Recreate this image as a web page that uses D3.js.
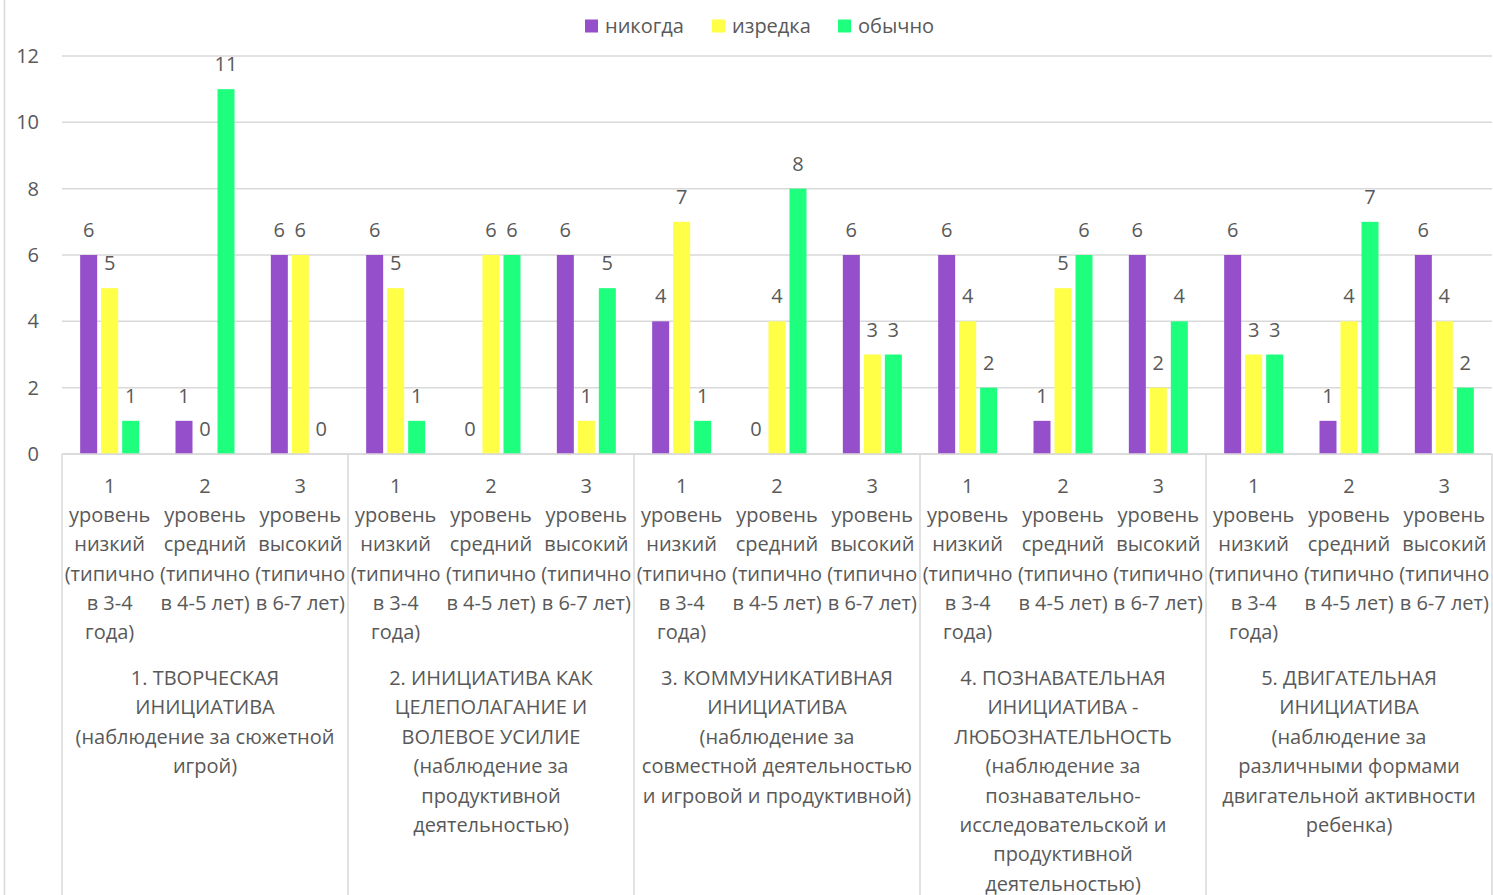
<!DOCTYPE html>
<html><head><meta charset="utf-8">
<script src="https://cdn.jsdelivr.net/npm/d3@7"></script>
<style>
body{margin:0;background:#fff;}
text{font-family:"Open Sans",sans-serif;fill:#595959;}
</style></head>
<body>
<svg id="c" width="1493" height="895"></svg>
<script>
const series = ["никогда","изредка","обычно"];
const colors = ["#954FCA","#FFFF47","#1EFF7E"];
const groups = [
  ["1. ТВОРЧЕСКАЯ","ИНИЦИАТИВА","(наблюдение за сюжетной","игрой)"],
  ["2. ИНИЦИАТИВА КАК","ЦЕЛЕПОЛАГАНИЕ И","ВОЛЕВОЕ УСИЛИЕ","(наблюдение за","продуктивной","деятельностью)"],
  ["3. КОММУНИКАТИВНАЯ","ИНИЦИАТИВА","(наблюдение за","совместной деятельностью","и игровой и продуктивной)"],
  ["4. ПОЗНАВАТЕЛЬНАЯ","ИНИЦИАТИВА -","ЛЮБОЗНАТЕЛЬНОСТЬ","(наблюдение за","познавательно-","исследовательской и","продуктивной","деятельностью)"],
  ["5. ДВИГАТЕЛЬНАЯ","ИНИЦИАТИВА","(наблюдение за","различными формами","двигательной активности","ребенка)"]
];
const levels = [
  ["1","уровень","низкий","(типично","в 3-4","года)"],
  ["2","уровень","средний","(типично","в 4-5 лет)"],
  ["3","уровень","высокий","(типично","в 6-7 лет)"]
];
// values per series, 15 categories (5 groups x 3 levels)
const neverVals  = [6,1,6, 6,0,6, 4,0,6, 6,1,6, 6,1,6];
const rarelyVals = [5,0,6, 5,6,1, 7,4,3, 4,5,2, 3,4,4];
const usualVals  = [1,11,0, 1,6,5, 1,8,3, 2,6,4, 3,7,2];
const yTicks = [0,2,4,6,8,10,12];

const valuesBySeries = [neverVals, rarelyVals, usualVals];
const cats = d3.range(groups.length * levels.length);
const svg = d3.select("#c");
const L = 62, R = 1492, T = 56, B = 454;

const x = d3.scaleBand().domain(cats).range([L, R]).padding(0);
const x1 = d3.scaleBand().domain(d3.range(series.length)).range([0, x.bandwidth()])
  .paddingInner(4/21).paddingOuter(0.865);
const y = d3.scaleLinear().domain([0, 12]).range([B, T]);

// chart border left
svg.append("line").attr("x1",4.5).attr("x2",4.5).attr("y1",0).attr("y2",895)
  .attr("stroke","#d9d9d9").attr("stroke-width",1.5);

// gridlines
svg.append("g").selectAll("line").data(yTicks).join("line")
  .attr("x1",L).attr("x2",R).attr("y1",d=>y(d)).attr("y2",d=>y(d))
  .attr("stroke","#d9d9d9").attr("stroke-width",1.5);

// y axis labels
svg.append("g").selectAll("text").data(yTicks).join("text")
  .attr("x",39).attr("y",d=>y(d)).attr("dy","0.35em").attr("text-anchor","end")
  .style("font-size","20px").text(d=>d);

// bars
const barG = svg.append("g");
series.forEach((s,si)=>{
  barG.append("g").selectAll("rect").data(cats).join("rect")
    .attr("x",c=>x(c)+x1(si)).attr("width",x1.bandwidth())
    .attr("y",c=>y(valuesBySeries[si][c])).attr("height",c=>B-y(valuesBySeries[si][c]))
    .attr("fill",colors[si]);
  barG.append("g").selectAll("text").data(cats).join("text")
    .attr("x",c=>x(c)+x1(si)+x1.bandwidth()/2)
    .attr("y",c=>y(valuesBySeries[si][c])-25).attr("dy","0.35em")
    .attr("text-anchor","middle").style("font-size","20px")
    .text(c=>valuesBySeries[si][c]);
});

// category axis lines
svg.append("line").attr("x1",L).attr("x2",R).attr("y1",B).attr("y2",B)
  .attr("stroke","#d9d9d9").attr("stroke-width",1.5);
const gb = d3.range(groups.length+1).map(i=> i<groups.length ? x(i*levels.length) : R);
svg.append("g").selectAll("line").data(gb).join("line")
  .attr("x1",d=>d).attr("x2",d=>d).attr("y1",B).attr("y2",895)
  .attr("stroke","#d9d9d9").attr("stroke-width",1.5);

// level labels
cats.forEach(c=>{
  const lines = levels[c % levels.length];
  const t = svg.append("text").attr("text-anchor","middle").style("font-size","20px");
  lines.forEach((ln,i)=>{
    t.append("tspan").attr("x",x(c)+x.bandwidth()/2).attr("y",486 + i*29.2).attr("dy","0.35em").text(ln);
  });
});

// group labels
groups.forEach((g,gi)=>{
  const cx = (gb[gi]+gb[gi+1])/2;
  const t = svg.append("text").attr("text-anchor","middle").style("font-size","20px");
  g.forEach((ln,i)=>{
    t.append("tspan").attr("x",cx).attr("y",678 + i*29.4).attr("dy","0.35em").text(ln);
  });
});

// legend
const legX = [585, 712, 838];
series.forEach((s,i)=>{
  svg.append("rect").attr("x",legX[i]).attr("y",19.5).attr("width",13).attr("height",13).attr("fill",colors[i]);
  svg.append("text").attr("x",legX[i]+20).attr("y",26).attr("dy","0.35em").style("font-size","20px").text(s);
});
</script>
</body></html>
